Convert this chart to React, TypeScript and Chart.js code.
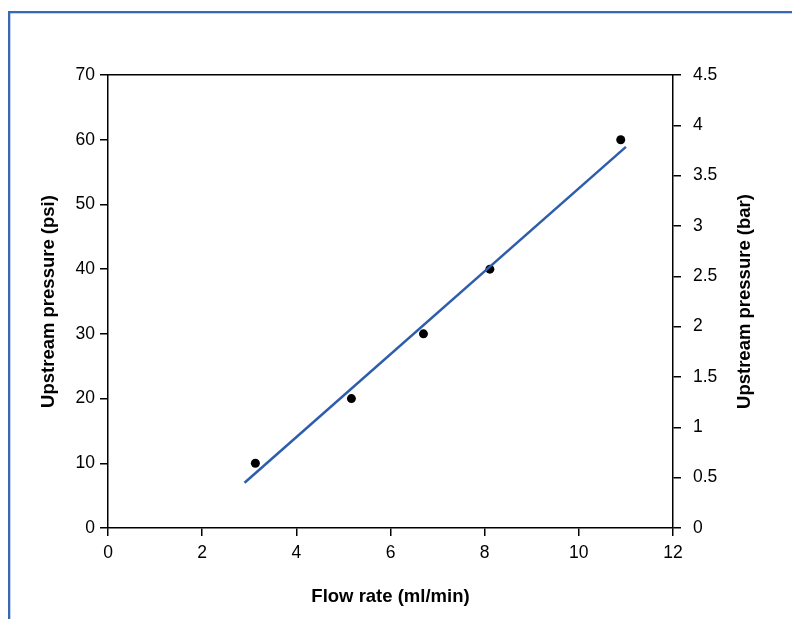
import React, { useEffect, useRef } from "react";
import { Chart, registerables } from "chart.js";

Chart.register(...registerables);

// ---- Data ----
const flowRate = [3.13, 5.17, 6.7, 8.11, 10.89];
const pressurePsi = [10, 20, 30, 40, 60];
const fitFlow = [2.9, 11.0];
const fitPsi = [7.0, 58.9];

const xTicks = [0, 2, 4, 6, 8, 10, 12];
const psiTicks = [0, 10, 20, 30, 40, 50, 60, 70];
const barTicks = [0, 0.5, 1, 1.5, 2, 2.5, 3, 3.5, 4, 4.5];

const xTitle = "Flow rate (ml/min)";
const yTitle = "Upstream pressure (psi)";
const y1Title = "Upstream pressure (bar)";

const FONT = '"Liberation Sans", Arial, Helvetica, sans-serif';
const FRAME_BLUE = "#3a68b4";
const LINE_BLUE = "#2d5dab";

const decorPlugin = {
  id: "decor",
  afterDraw(chart: any) {
    const { ctx, chartArea } = chart;
    ctx.save();
    // outer frame (top & left)
    ctx.fillStyle = FRAME_BLUE;
    ctx.fillRect(8, 11, 792 - 8, 2.3);
    ctx.fillRect(8, 11, 2.3, 619 - 11);
    // top border of plot box
    ctx.strokeStyle = "#000";
    ctx.lineWidth = 1.5;
    ctx.beginPath();
    ctx.moveTo(chartArea.left - 0.75, 74.75);
    ctx.lineTo(chartArea.right + 0.75, 74.75);
    ctx.stroke();
    // right axis title (reads bottom-to-top)
    ctx.translate(745, (chartArea.top + chartArea.bottom) / 2);
    ctx.rotate(-Math.PI / 2);
    ctx.fillStyle = "#000";
    ctx.font = `bold 18.5px ${FONT}`;
    ctx.textAlign = "center";
    ctx.textBaseline = "middle";
    ctx.fillText(y1Title, 0, 0);
    ctx.restore();
  },
};

export default function App() {
  const ref = useRef<HTMLCanvasElement | null>(null);

  useEffect(() => {
    if (!ref.current) return;
    const gridCommon = {
      display: true,
      drawOnChartArea: false,
      drawTicks: true,
      tickLength: 8,
      color: "#000",
      lineWidth: 1.5,
    };
    const borderCommon = { display: true, color: "#000", width: 1.5 };
    const tickFont = { family: FONT, size: 17.5 };

    const chart = new Chart(ref.current, {
      type: "scatter",
      data: {
        datasets: [
          {
            label: "Fit",
            data: fitFlow.map((x, i) => ({ x, y: fitPsi[i] })),
            showLine: true,
            borderColor: LINE_BLUE,
            borderWidth: 2.5,
            pointRadius: 0,
            fill: false,
            yAxisID: "y",
          },
          {
            label: "Measured",
            data: flowRate.map((x, i) => ({ x, y: pressurePsi[i] })),
            showLine: false,
            backgroundColor: "#000",
            borderWidth: 0,
            pointRadius: 4.5,
            yAxisID: "y",
          },
        ],
      },
      options: {
        animation: false,
        responsive: true,
        maintainAspectRatio: false,
        layout: { padding: { top: 75, left: 0, right: 0, bottom: 0 } },
        plugins: {
          legend: { display: false },
          tooltip: { enabled: false },
        },
        scales: {
          x: {
            type: "linear",
            position: "bottom",
            min: xTicks[0],
            max: xTicks[xTicks.length - 1],
            afterBuildTicks: (s: any) => {
              s.ticks = xTicks.map((v) => ({ value: v }));
            },
            afterFit: (s: any) => {
              s.height = 91;
            },
            grid: gridCommon,
            border: borderCommon,
            ticks: {
              font: tickFont,
              color: "#000",
              padding: 7,
              maxRotation: 0,
              autoSkip: false,
              callback: (v: any) => String(v),
            },
            title: {
              display: true,
              text: xTitle,
              color: "#000",
              font: { family: FONT, size: 18.5, weight: "bold" },
              padding: { top: 0, bottom: 11 },
            },
          },
          y: {
            type: "linear",
            position: "left",
            min: psiTicks[0],
            max: psiTicks[psiTicks.length - 1],
            afterBuildTicks: (s: any) => {
              s.ticks = psiTicks.map((v) => ({ value: v }));
            },
            afterFit: (s: any) => {
              s.width = 108;
            },
            grid: gridCommon,
            border: borderCommon,
            ticks: {
              font: tickFont,
              color: "#000",
              padding: 5,
              autoSkip: false,
              callback: (v: any) => String(v),
            },
            title: {
              display: true,
              text: yTitle,
              color: "#000",
              font: { family: FONT, size: 18.5, weight: "bold" },
              padding: { top: 38, bottom: 0 },
            },
          },
          y1: {
            type: "linear",
            position: "right",
            min: barTicks[0],
            max: barTicks[barTicks.length - 1],
            afterBuildTicks: (s: any) => {
              s.ticks = barTicks.map((v) => ({ value: v }));
            },
            afterFit: (s: any) => {
              s.width = 119;
            },
            grid: gridCommon,
            border: borderCommon,
            ticks: {
              font: tickFont,
              color: "#000",
              padding: 12,
              autoSkip: false,
              callback: (v: any) => String(v),
            },
          },
        },
      } as any,
      plugins: [decorPlugin],
    });
    return () => chart.destroy();
  }, []);

  return (
    <div
      style={{
        position: "fixed",
        left: 0,
        top: 0,
        width: 792,
        height: 619,
        background: "#fff",
      }}
    >
      <canvas ref={ref} />
    </div>
  );
}
